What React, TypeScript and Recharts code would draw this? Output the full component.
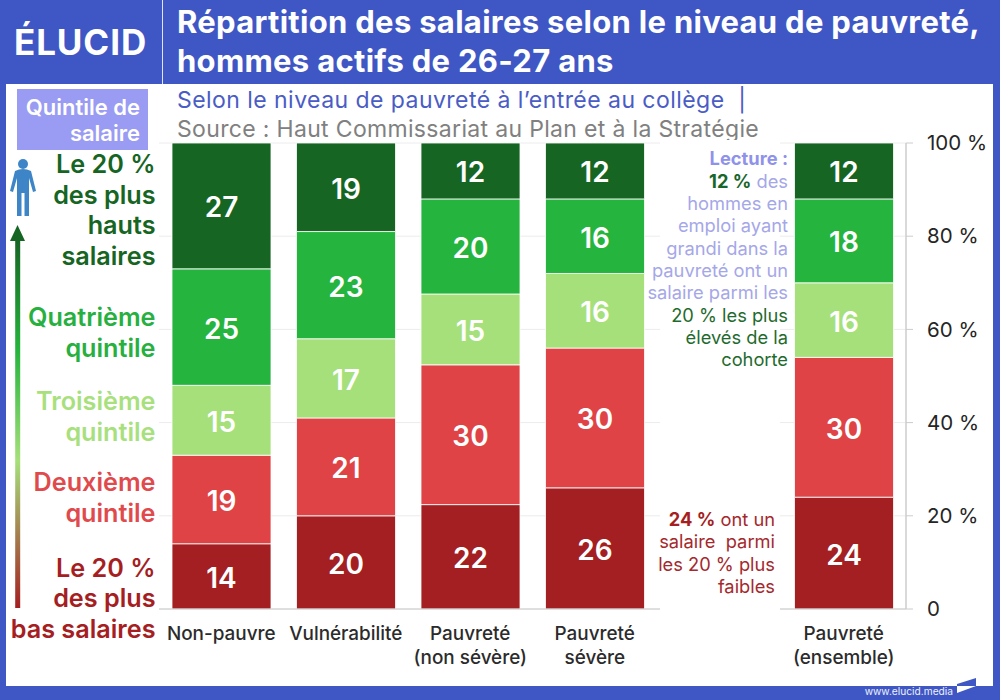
import React from 'react';
import { BarChart, Bar, XAxis, YAxis, CartesianGrid, LabelList } from 'recharts';

const FONT = 'Inter, Lato, sans-serif';

const categories = ['Non-pauvre', 'Vulnérabilité', 'Pauvreté\n(non sévère)', 'Pauvreté\nsévère', '', 'Pauvreté\n(ensemble)'];
const lowest = [14, 20, 22.4, 26, null, 24];
const second = [19, 21, 30, 30, null, 30];
const third = [15, 17, 15.2, 16, null, 16];
const fourth = [25, 23, 20.4, 16, null, 18];
const highest = [27, 19, 12, 12, null, 12];
const yTicks = [0, 20, 40, 60, 80, 100];

const seriesKeys = ['lowest', 'second', 'third', 'fourth', 'highest'];
const seriesColors = ['#a31f21', '#e04345', '#a6e07b', '#25b43d', '#166523'];

const rows = categories.map((category, i) => ({
  category,
  lowest: lowest[i],
  second: second[i],
  third: third[i],
  fourth: fourth[i],
  highest: highest[i],
}));

const quintileLabels: [string, number, string][] = [
  ['Le 20 %', 173, seriesColors[4]],
  ['des plus', 204, seriesColors[4]],
  ['hauts', 234, seriesColors[4]],
  ['salaires', 265, seriesColors[4]],
  ['Quatrième', 326, '#27b03f'],
  ['quintile', 357, '#27b03f'],
  ['Troisième', 410, '#a8e07e'],
  ['quintile', 441, '#a8e07e'],
  ['Deuxième', 491, '#e04a4c'],
  ['quintile', 522, '#e04a4c'],
  ['Le 20 %', 577, '#a51e22'],
  ['des plus', 607, '#a51e22'],
  ['bas salaires', 638, '#a51e22'],
];

const LAV = '#a5a7e8';
const DG = '#1f6b2e';
const readingTop: [number, [string, string, number][]][] = [
  [165, [['Lecture :', '#8f92ea', 700]]],
  [188, [['12 %', '#17662a', 700], [' des', LAV, 400]]],
  [210, [['hommes en', LAV, 400]]],
  [232, [['emploi ayant', LAV, 400]]],
  [255, [['grandi dans la', LAV, 400]]],
  [277, [['pauvreté ont un', LAV, 400]]],
  [299, [['salaire parmi les', LAV, 400]]],
  [322, [['20 % les plus', DG, 400]]],
  [344, [['élevés de la', DG, 400]]],
  [366, [['cohorte', DG, 400]]],
];
const RED = '#a5282c';
const readingBottom: [number, [string, string, number][]][] = [
  [526, [['24 %', '#a51e22', 700], [' ont un', RED, 400]]],
  [548, [['salaire  parmi', RED, 400]]],
  [571, [['les 20 % plus', RED, 400]]],
  [593, [['faibles', RED, 400]]],
];

function CategoryTick(props: any) {
  const { x, payload } = props;
  const lines = String(payload.value).split('\n');
  return (
    <text x={x} textAnchor="middle" fontFamily={FONT} fontSize={18.9} fontWeight={500} fill="#2b2b2b">
      {lines.map((line: string, i: number) => (
        <tspan key={i} x={x} y={640 + i * 24}>{line}</tspan>
      ))}
    </text>
  );
}

function Background() {
  return (
    <svg width={1000} height={700} style={{ position: 'absolute', left: 0, top: 0 }}>
      <rect width={1000} height={700} fill="#3f57c4" />
      <rect x={6} y={84} width={987} height={602} fill="#ffffff" />
      <rect x={162} y={0} width={1} height={84} fill="#dfe4f6" />
    </svg>
  );
}

function Overlay() {
  return (
    <svg width={1000} height={700} style={{ position: 'absolute', left: 0, top: 0, pointerEvents: 'none' }} fontFamily={FONT}>
      <defs>
        <linearGradient id="arrowGrad" x1="0" y1="0" x2="0" y2="1">
          <stop offset="0" stopColor="#166523" />
          <stop offset="0.3" stopColor="#25b43d" />
          <stop offset="0.6" stopColor="#a6e07b" />
          <stop offset="1" stopColor="#a31f21" />
        </linearGradient>
      </defs>
      <text x={14} y={55} fontSize={35} fontWeight={700} letterSpacing={0.9} fill="#fff">ÉLUCID</text>
      <text x={177} y={33} fontSize={31} fontWeight={700} letterSpacing={0.3} fill="#fff">Répartition des salaires selon le niveau de pauvreté,</text>
      <text x={177} y={72} fontSize={31} fontWeight={700} letterSpacing={0.3} fill="#fff">hommes actifs de 26-27 ans</text>
      <text x={177} y={108} fontSize={23} fill="#4a5cc5" letterSpacing={0.45} style={{ whiteSpace: 'pre' }}>Selon le niveau de pauvreté à l’entrée au collège  |</text>
      <text x={177} y={137} fontSize={23} fill="#808080" letterSpacing={0.33}>Source : Haut Commissariat au Plan et à la Stratégie</text>

      <rect x={17} y={89} width={131} height={61} fill="#9a9bf2" />
      <text x={140} y={115} textAnchor="end" fontSize={22} fontWeight={600} fill="#fff">Quintile de</text>
      <text x={140} y={141} textAnchor="end" fontSize={22} fontWeight={600} fill="#fff">salaire</text>

      {quintileLabels.map(([t, y, c], i) => (
        <text key={i} x={155.5} y={y} textAnchor="end" fontSize={25.2} fontWeight={600} fill={c}>{t}</text>
      ))}

      <g fill="#3d85c6">
        <circle cx={23} cy={164} r={5} />
        <path d="M15 171 Q23 167 31 171 L36 191 L33 192 L29 178 L29 216 L24.5 216 L24.5 193 L21.5 193 L21.5 216 L17 216 L17 178 L13 192 L10 191 Z" />
      </g>
      <polygon points="17.5,225 25,241 10,241" fill="#166523" />
      <rect x={15.2} y={240} width={5} height={368} fill="url(#arrowGrad)" />

      <rect x={660} y={140} width={120} height={472} fill="#fff" />
      {readingTop.map(([y, parts], i) => (
        <text key={i} x={788} y={y} textAnchor="end" fontSize={18.3} style={{ whiteSpace: 'pre' }}>
          {parts.map(([t, c, w], j) => <tspan key={j} fill={c} fontWeight={w}>{t}</tspan>)}
        </text>
      ))}
      {readingBottom.map(([y, parts], i) => (
        <text key={i} x={775} y={y} textAnchor="end" fontSize={18.3} style={{ whiteSpace: 'pre' }}>
          {parts.map(([t, c, w], j) => <tspan key={j} fill={c} fontWeight={w}>{t}</tspan>)}
        </text>
      ))}

      <text x={953} y={695} textAnchor="end" fontSize={10.2} fill="#eef0fb">www.elucid.media</text>
      <polygon points="957,684 976,678 976,686 957,686" fill="#3f57c4" />
      <polygon points="957,686 976,686 957,693" fill="#fff" />
    </svg>
  );
}

export default function App() {
  return (
    <div style={{ position: 'fixed', left: 0, top: 0, width: 1000, height: 700, overflow: 'hidden' }}>
      <Background />
      <div style={{ position: 'absolute', left: 0, top: 0 }}>
        <BarChart
          width={1000}
          height={700}
          data={rows}
          margin={{ top: 143, right: 0, bottom: 0, left: 159 }}
          barCategoryGap={0}
        >
          <CartesianGrid horizontal vertical={false} stroke="#ececec" />
          <XAxis
            dataKey="category"
            height={91}
            interval={0}
            tickLine={false}
            axisLine={{ stroke: '#c8c8c8' }}
            tick={CategoryTick}
          />
          <YAxis
            orientation="right"
            width={94}
            domain={[0, 100]}
            ticks={yTicks}
            tickFormatter={(v: number) => (v === 0 ? '0' : `${v} %`)}
            tickSize={7}
            tickMargin={14}
            axisLine={{ stroke: '#cccccc', strokeWidth: 1.5 }}
            tickLine={{ stroke: '#cccccc' }}
            tick={{ fontFamily: FONT, fontSize: 20.5, fill: '#252525', textAnchor: 'start' }}
          />
          {seriesKeys.map((key, i) => (
            <Bar
              key={key}
              dataKey={key}
              stackId="a"
              fill={seriesColors[i]}
              stroke="#ffffff"
              strokeWidth={0.8}
              barSize={99}
              isAnimationActive={false}
            >
              <LabelList
                dataKey={key}
                position="center"
                dy={1.5}
                formatter={(v: any) => (v == null ? '' : Math.round(v))}
                style={{ fontFamily: FONT, fontSize: 28, fontWeight: 600, fill: '#ffffff' }}
              />
            </Bar>
          ))}
        </BarChart>
      </div>
      <Overlay />
    </div>
  );
}
